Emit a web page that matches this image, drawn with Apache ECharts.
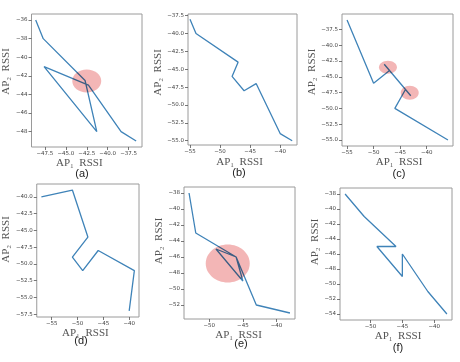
<!DOCTYPE html>
<html><head><meta charset="utf-8">
<script src="https://cdn.jsdelivr.net/npm/echarts@6/dist/echarts.min.js"></script>
<style>html,body{margin:0;padding:0;background:#fff}#c{width:460px;height:362px}</style>
</head><body><div id="c"></div>
<script>
// ---- data ----
const aX = [-48.6, -47.7, -42.7, -41.3, -47.6, -42.3, -38.4, -36.6];
const aY = [-36, -38, -42.5, -48, -41, -43, -48, -49];
const bX = [-55, -54, -47, -48, -46, -44, -40, -38];
const bY = [-38, -40, -44, -46, -48, -47, -54, -55];
const cX = [-55, -50, -47, -48, -43, -44, -46, -36];
const cY = [-36, -46, -44, -43, -48, -47, -50, -55];
const dX = [-57, -51, -48, -51, -49, -46, -39, -40];
const dY = [-40, -39, -46, -49, -51, -48, -51, -57];
const eX = [-53, -52, -46, -49, -45, -46, -43, -38];
const eY = [-38, -43, -46, -45, -49, -46, -52, -53];
const fX = [-54, -51, -46, -49, -45, -45, -41, -38];
const fY = [-38, -41, -45, -45, -49, -46, -51, -54];
// highlighted regions: centre x, centre y
const aZoneX = [-42.5], aZoneY = [-42.55];
const cZoneX = [-47.3, -43.2], cZoneY = [-43.5, -47.5];
const eZoneX = [-47.25], eZoneY = [-46.8];
// tick labels
const aXTicks = [-47.5, -45, -42.5, -40, -37.5], aYTicks = [-48, -46, -44, -42, -40, -38, -36];
const bXTicks = [-55, -50, -45, -40], bYTicks = [-55, -52.5, -50, -47.5, -45, -42.5, -40, -37.5];
const cXTicks = [-55, -50, -45, -40, -35], cYTicks = [-55, -52.5, -50, -47.5, -45, -42.5, -40, -37.5];
const dXTicks = [-55, -50, -45, -40], dYTicks = [-57.5, -55, -52.5, -50, -47.5, -45, -42.5, -40];
const eXTicks = [-50, -45, -40], eYTicks = [-52, -50, -48, -46, -44, -42, -40, -38];
const fXTicks = [-50, -45, -40], fYTicks = [-54, -52, -50, -48, -46, -44, -42, -40, -38];
const captions = ['(a)', '(b)', '(c)', '(d)', '(e)', '(f)'];
const xName = 'AP\u2081  RSSI', yName = 'AP\u2082  RSSI';

// ---- layout / style ----
const panels = [
  {x: aX, y: aY, xt: aXTicks, yt: aYTicks, xd: 1, yd: 0, zx: aZoneX, zy: aZoneY, zs: [[29, 23]],
   box: [31, 14, 111, 133], xr: [-49.1, -35.9], yr: [-49.65, -35.35], yGap: 14, yShift: 18, xGap: 10, xShift: 15, cap: [82, 174]},
  {x: bX, y: bY, xt: bXTicks, yt: bYTicks, xd: 0, yd: 1,
   box: [188, 14, 109, 131], xr: [-55.33, -37.2], yr: [-55.6, -37.26], yGap: 24, yShift: 14, xGap: 12, xShift: 6, cap: [239, 173]},
  {x: cX, y: cY, xt: cXTicks, yt: cYTicks, xd: 0, yd: 1, zx: cZoneX, zy: cZoneY, zs: [[18, 13], [18, 14]],
   box: [342, 14, 111, 132], xr: [-55.95, -35.05], yr: [-55.95, -35.05], yGap: 21, yShift: 16, xGap: 10, xShift: -3, cap: [399, 174]},
  {x: dX, y: dY, xt: dXTicks, yt: dYTicks, xd: 0, yd: 1,
   box: [28, 184, 111, 133], xr: [-57.9, -38.1], yr: [-57.9, -38.1], yGap: 18, yShift: 22, xGap: 9, xShift: 5, cap: [81, 341]},
  {x: eX, y: eY, xt: eXTicks, yt: eYTicks, xd: 0, yd: 0, zx: eZoneX, zy: eZoneY, zs: [[44, 38]],
   box: [184, 187, 111, 132], xr: [-53.75, -37.25], yr: [-53.75, -37.25], yGap: 14, yShift: 24, xGap: 11, xShift: 2, cap: [241, 344]},
  {x: fX, y: fY, xt: fXTicks, yt: fYTicks, xd: 0, yd: 0,
   box: [340, 188, 112, 132], xr: [-54.8, -37.2], yr: [-54.8, -37.2], yGap: 13, yShift: 24, xGap: 10, xShift: -4, cap: [398, 347.5]}
];

const grid = [], xAxis = [], yAxis = [], series = [], graphic = [];
const fmt = d => v => (v < 0 ? '\u2212' : '') + Math.abs(v).toFixed(d);
panels.forEach((p, i) => {
  grid.push({left: p.box[0], top: p.box[1], width: p.box[2], height: p.box[3], show: true,
    borderColor: '#9a9a9a', borderWidth: 1, backgroundColor: 'transparent'});
  const common = {
    type: 'value', gridIndex: i, splitLine: {show: false}, axisLine: {show: false},
    nameLocation: 'middle',
    nameTextStyle: {fontFamily: 'Liberation Serif', fontSize: 11, color: '#555'}
  };
  xAxis.push(Object.assign({}, common, {
    min: p.xr[0], max: p.xr[1], name: xName, nameGap: p.xGap,
    nameTextStyle: Object.assign({}, common.nameTextStyle, {padding: [0, p.xShift > 0 ? p.xShift : 0, 0, p.xShift < 0 ? -p.xShift : 0]}),
    axisTick: {show: true, length: 3, lineStyle: {color: '#555', width: 0.8}, customValues: p.xt},
    axisLabel: {customValues: p.xt, formatter: fmt(p.xd), fontFamily: 'DejaVu Sans', fontSize: 5.5, color: '#444', margin: 4}
  }));
  yAxis.push(Object.assign({}, common, {
    min: p.yr[0], max: p.yr[1], name: yName, nameGap: p.yGap, nameRotate: 90,
    nameTextStyle: Object.assign({}, common.nameTextStyle, {padding: [0, 0, 0, p.yShift]}),
    axisTick: {show: true, length: 3, lineStyle: {color: '#555', width: 0.8}, customValues: p.yt},
    axisLabel: {customValues: p.yt, formatter: fmt(p.yd), fontFamily: 'DejaVu Sans', fontSize: 5.5, color: '#444', margin: 4}
  }));
  series.push({type: 'line', xAxisIndex: i, yAxisIndex: i, showSymbol: false, symbol: 'none',
    data: p.x.map((v, k) => [v, p.y[k]]), lineStyle: {color: '#3f83b8', width: 1.3}, z: 2, animation: false});
  if (p.zx) {
    series.push({type: 'custom', xAxisIndex: i, yAxisIndex: i, z: 3, animation: false, silent: true,
      data: p.zx.map((v, k) => [v, p.zy[k], p.zs[k][0], p.zs[k][1]]),
      renderItem: (params, api) => {
        const c = api.coord([api.value(0), api.value(1)]);
        return {type: 'ellipse', name: 'zone', shape: {cx: c[0], cy: c[1], rx: api.value(2) / 2, ry: api.value(3) / 2},
          style: {fill: '#f3b6b6', stroke: null}};
      }});
  }
  graphic.push({type: 'text', x: p.cap[0], y: p.cap[1], style: {text: captions[i], fill: '#222',
    font: '11px "Liberation Sans"', textAlign: 'center', textVerticalAlign: 'middle'}});
});

const chart = echarts.init(document.getElementById('c'), null, {renderer: 'canvas'});
chart.setOption({animation: false, grid, xAxis, yAxis, series, graphic});
// tint the highlighted zones like a translucent overlay (multiply over the trace)
const zr = chart.getZr();
zr.storage.getDisplayList(true).forEach(el => {
  if (el.type === 'ellipse') { el.style.blend = 'multiply'; el.markRedraw(); }
});
zr.refreshImmediately();
</script></body></html>
